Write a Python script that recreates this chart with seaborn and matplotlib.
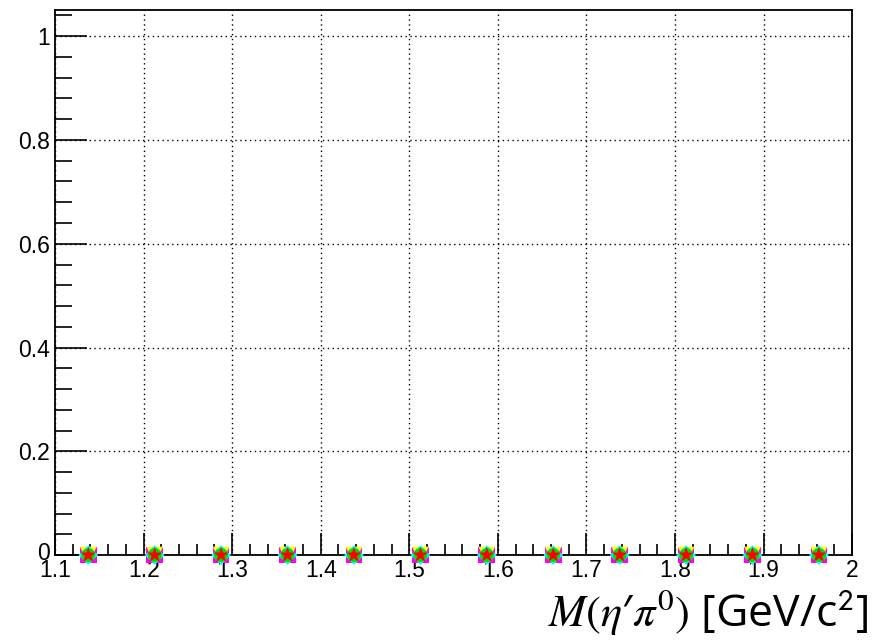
import numpy as np
import pandas as pd
import matplotlib
matplotlib.use("Agg")
import matplotlib.pyplot as plt
import matplotlib.transforms as mtransforms
from matplotlib.ticker import MultipleLocator
import seaborn as sns

# Bin centres of the eta' pi0 invariant mass (GeV/c^2)
mass_bins = [1.1375, 1.2125, 1.2875, 1.3625, 1.4375, 1.5125,
             1.5875, 1.6625, 1.7375, 1.8125, 1.8875, 1.9625]

# Fitted fractions per bin for each component
frac_a = [0, 0, 0, 0, 0, 0, 0, 0, 0, 0, 0, 0]
frac_b = [0, 0, 0, 0, 0, 0, 0, 0, 0, 0, 0, 0]
frac_c = [0, 0, 0, 0, 0, 0, 0, 0, 0, 0, 0, 0]
frac_d = [0, 0, 0, 0, 0, 0, 0, 0, 0, 0, 0, 0]
frac_e = [0, 0, 0, 0, 0, 0, 0, 0, 0, 0, 0, 0]

x_ticks = [1.1, 1.2, 1.3, 1.4, 1.5, 1.6, 1.7, 1.8, 1.9, 2.0]
x_ticklabels = ["1.1", "1.2", "1.3", "1.4", "1.5", "1.6", "1.7", "1.8", "1.9", "2"]
y_ticks = [0, 0.2, 0.4, 0.6, 0.8, 1.0]
y_ticklabels = ["0", "0.2", "0.4", "0.6", "0.8", "1"]

series = [
    ("a", frac_a, "#ff00ff", "s", 12),
    ("b", frac_b, "#ffff00", "v", 12),
    ("c", frac_c, "#00ffff", "D", 10),
    ("d", frac_d, "#00dd00", "o", 10),
    ("e", frac_e, "#ff0000", "*", 12),
]

sns.set_theme(style="white")
plt.rcParams["font.family"] = ["Liberation Sans", "DejaVu Sans"]
plt.rcParams["mathtext.fontset"] = "stix"
plt.rcParams["text.color"] = "black"
plt.rcParams["xtick.color"] = "black"
plt.rcParams["ytick.color"] = "black"

fig = plt.figure(figsize=(8.74, 6.41), dpi=100)
ax = fig.add_axes([0.063, 0.134, 0.912, 0.850])

for name, vals, col, mk, sz in series:
    df = pd.DataFrame({"mass": mass_bins, "frac": vals})
    sns.scatterplot(data=df, x="mass", y="frac", ax=ax, color=col, marker=mk,
                    s=sz ** 2, edgecolor="none", linewidth=0, clip_on=False,
                    zorder=5, legend=False)

ax.set_xlim(1.1, 2.0)
ax.set_ylim(0, 1.05)
ax.set_xticks(x_ticks)
ax.set_xticklabels(x_ticklabels)
ax.set_yticks(y_ticks)
ax.set_yticklabels(y_ticklabels)
ax.xaxis.set_minor_locator(MultipleLocator(0.02))
ax.yaxis.set_minor_locator(MultipleLocator(0.04))

ax.tick_params(axis="both", which="both", direction="in", color="black",
               labelcolor="black", labelsize=16.5, width=1.2,
               bottom=True, left=True, top=False, right=False)
ax.tick_params(axis="x", which="major", length=16, pad=3)
ax.tick_params(axis="x", which="minor", length=8)
ax.tick_params(axis="y", which="major", length=23, pad=4)
ax.tick_params(axis="y", which="minor", length=12)

# lift the "0" label a touch so it clears the first x label
zero_lbl = ax.get_yticklabels()[0]
zero_lbl.set_transform(zero_lbl.get_transform() +
                       mtransforms.ScaledTranslation(0, 3 / 72, fig.dpi_scale_trans))

ax.grid(True, which="major", color="black", linestyle=(0, (1, 2.5)), linewidth=1)
ax.set_axisbelow(True)
for sp in ax.spines.values():
    sp.set_visible(True)
    sp.set_color("black")
    sp.set_linewidth(1.3)

ax.set_xlabel("")
ax.set_ylabel("")
fig.text(0.993, 0.024, r"$M(\eta$′$\pi^0)$ [GeV/c$^{\mathsf{2}}$]", ha="right", va="baseline",
         fontsize=32, color="black", family=["Open Sans", "DejaVu Sans"])

fig.savefig("out.png", dpi=100, facecolor="white")
